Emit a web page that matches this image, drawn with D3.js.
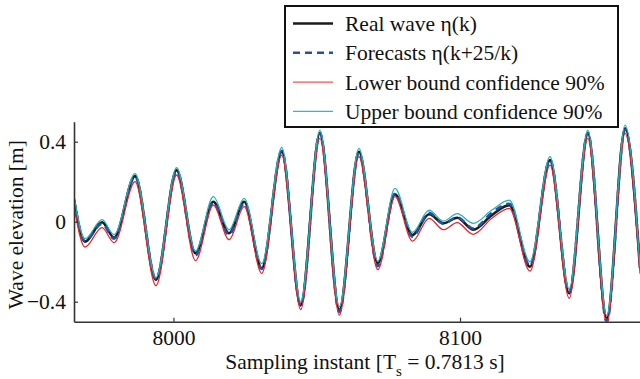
<!DOCTYPE html>
<html>
<head>
<meta charset="utf-8">
<script src="https://cdn.jsdelivr.net/npm/d3@7"></script>
<style>
  html, body { margin: 0; padding: 0; background: #fff; }
  svg { display: block; }
  svg text { font-family: "Liberation Serif", "Times New Roman", "DejaVu Serif", serif; }
</style>
</head>
<body>
<svg id="chart" width="640" height="379"></svg>
<script>
// sampling instants where the curves turn
const instants = [7965.3, 7969.1, 7975.1, 7979.3, 7986.6, 7993.9, 8001.1, 8007.7, 8013.9, 8019.4,
  8024.7, 8030.8, 8037.8, 8044.4, 8051.1, 8057.9, 8064.7, 8071.3, 8077.3, 8083.4,
  8089.2, 8094.2, 8099.0, 8104.6, 8111.1, 8117.2, 8124.4, 8131.4, 8138.1, 8144.6,
  8151.2, 8157.6, 8162.8];

const realWave = [0.11, -0.10, -0.003, -0.08, 0.228, -0.29, 0.258, -0.158, 0.10, -0.058,
  0.10, -0.233, 0.35, -0.417, 0.442, -0.44, 0.35, -0.208, 0.137, -0.067,
  0.037, -0.008, 0.02, -0.04, 0.033, 0.083, -0.225, 0.308, -0.358, 0.442,
  -0.483, 0.467, -0.23];

const forecast = [0.11, -0.095, -0.01, -0.085, 0.225, -0.285, 0.25, -0.168, 0.095, -0.066,
  0.092, -0.236, 0.355, -0.42, 0.445, -0.452, 0.345, -0.222, 0.14, -0.075,
  0.045, -0.01, 0.022, -0.034, 0.045, 0.09, -0.22, 0.31, -0.35, 0.445,
  -0.5, 0.46, -0.23];

const lowerBound = [0.08, -0.127, -0.03, -0.105, 0.20, -0.32, 0.233, -0.195, 0.083, -0.09,
  0.075, -0.258, 0.333, -0.44, 0.417, -0.467, 0.325, -0.24, 0.125, -0.097,
  0.017, -0.04, -0.005, -0.063, 0.017, 0.067, -0.247, 0.283, -0.383, 0.417,
  -0.51, 0.442, -0.26];

const upperBound = [0.13, -0.085, 0.01, -0.065, 0.24, -0.28, 0.27, -0.147, 0.125, -0.04,
  0.117, -0.21, 0.372, -0.40, 0.458, -0.425, 0.367, -0.197, 0.167, -0.053,
  0.058, 0.003, 0.04, -0.008, 0.058, 0.108, -0.20, 0.325, -0.337, 0.458,
  -0.47, 0.483, -0.225];

const xTicks = [8000, 8100];
const yTicks = [-0.4, 0, 0.4];

const series = [
  { label: "Real wave \u03b7(k)", values: realWave, color: "#1b1b1b", width: 2.6, dash: null, legendColor: "#1b1b1b" },
  { label: "Forecasts \u03b7(k+25/k)", values: forecast, color: "#2b4ea3", width: 2.6, dash: "7,5", legendColor: "#2b4ea3" },
  { label: "Lower bound confidence 90%", values: lowerBound, color: "#e8202a", width: 1.2, dash: null, legendColor: "#f05258" },
  { label: "Upper bound confidence 90%", values: upperBound, color: "#1fb3b6", width: 1.2, dash: null, legendColor: "#2bbcbf" },
];

const serif = "'Liberation Serif', 'Times New Roman', 'DejaVu Serif', serif";

const svg = d3.select("#chart");
const plot = { left: 74, right: 640, top: 121.7, bottom: 321.7 };

const x = d3.scaleLinear().domain([7965.3, 8162.8]).range([plot.left, plot.right]);
const y = d3.scaleLinear().domain([-0.5, 0.5]).range([plot.bottom, plot.top]);

svg.append("defs").append("clipPath").attr("id", "plot-clip")
  .append("rect")
  .attr("x", plot.left)
  .attr("y", plot.top - 6)
  .attr("width", plot.right - plot.left)
  .attr("height", plot.bottom - plot.top + 6);

const line = d3.line()
  .x((d, i) => x(instants[i]))
  .y((d) => y(d))
  .curve(d3.curveMonotoneX);

const curves = svg.append("g").attr("clip-path", "url(#plot-clip)");
series.forEach((s) => {
  curves.append("path")
    .attr("d", line(s.values))
    .attr("fill", "none")
    .attr("stroke", s.color)
    .attr("stroke-width", s.width)
    .attr("stroke-dasharray", s.dash)
    .attr("stroke-linejoin", "round");
});

// axes, matlab style: ticks pointing inward, no box
const axisColor = "#333";
const fmt = (d) => (d === 0 ? "0" : d3.format(".1f")(d).replace("-", "\u2212"));

const xAxis = svg.append("g")
  .attr("transform", `translate(0,${plot.bottom})`)
  .call(d3.axisBottom(x).tickValues(xTicks).tickSizeInner(-4).tickSizeOuter(0).tickPadding(8).tickFormat(d3.format("d")));
const yAxis = svg.append("g")
  .attr("transform", `translate(${plot.left},0)`)
  .call(d3.axisLeft(y).tickValues(yTicks).tickSizeInner(-4).tickSizeOuter(0).tickPadding(8).tickFormat(fmt));

[xAxis, yAxis].forEach((g) => {
  g.attr("font-family", serif);
  g.select(".domain").attr("stroke", axisColor).attr("stroke-width", 1.6);
  g.selectAll(".tick line").attr("stroke", axisColor).attr("stroke-width", 1.2);
  g.selectAll(".tick text").attr("fill", "#111").attr("font-size", 21.5).attr("font-family", serif);
});
xAxis.selectAll(".tick text").attr("dy", "0.71em");

// axis labels
const xLabel = svg.append("text")
  .attr("x", 365)
  .attr("y", 369)
  .attr("text-anchor", "middle")
  .attr("font-family", serif)
  .attr("font-size", 21.5)
  .attr("fill", "#111");
xLabel.append("tspan").text("Sampling instant [T");
xLabel.append("tspan").attr("font-size", 15).attr("dy", 7).text("s");
xLabel.append("tspan").attr("dy", -7).text(" = 0.7813 s]");

svg.append("text")
  .attr("transform", `translate(23,${(plot.top + plot.bottom) / 2 + 3}) rotate(-90)`)
  .attr("text-anchor", "middle")
  .attr("font-family", serif)
  .attr("font-size", 21.5)
  .attr("fill", "#111")
  .text("Wave elevation [m]");

// legend
const legend = svg.append("g");
legend.append("rect")
  .attr("x", 285).attr("y", 6)
  .attr("width", 333).attr("height", 121)
  .attr("fill", "#fff")
  .attr("stroke", "#111")
  .attr("stroke-width", 2);

series.forEach((s, i) => {
  const rowY = 23.5 + i * 29.3;
  legend.append("line")
    .attr("x1", 293).attr("x2", 333)
    .attr("y1", rowY).attr("y2", rowY)
    .attr("stroke", s.legendColor)
    .attr("stroke-width", s.width)
    .attr("stroke-dasharray", s.dash);
  legend.append("text")
    .attr("x", 345)
    .attr("y", rowY)
    .attr("dy", "0.35em")
    .attr("font-family", serif)
    .attr("font-size", 21.5)
    .attr("fill", "#111")
    .text(s.label);
});
</script>
</body>
</html>
